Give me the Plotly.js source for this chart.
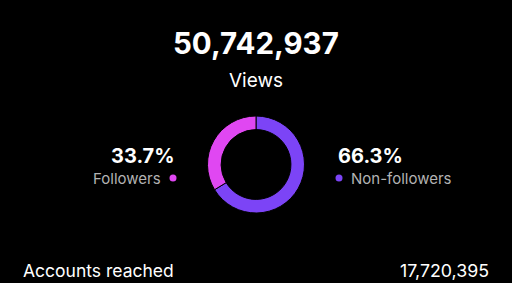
<!DOCTYPE html>
<html><head><meta charset="utf-8">
<script src="https://cdn.plot.ly/plotly-3.0.1.min.js"></script>
<style>html,body{margin:0;padding:0;background:#000;}#chart{width:512px;height:283px;}</style>
</head><body><div id="chart"></div>
<script>
const categories = ['Followers', 'Non-followers'];
const shares = [33.7, 66.3];
const sliceColors = ['#e047f2', '#7c44f6'];
const totalViews = 50742937;
const viewsLabel = 'Views';
const reachLabel = 'Accounts reached';
const accountsReached = 17720395;

const W = 512, H = 283;
const px = x => x / W, py = y => 1 - y / H;
const fmt = n => n.toLocaleString('en-US');
const pct = v => v.toFixed(1) + '%';
const F = 'Inter, "Noto Sans", sans-serif';

// drawn clockwise from 12 o'clock: non-followers first so followers sits on the left
const pie = {
  type: 'pie', labels: categories.slice().reverse(), values: shares.slice().reverse(), sort: false,
  direction: 'clockwise', rotation: 0, hole: 0.72,
  marker: {colors: sliceColors.slice().reverse(), line: {color: '#000', width: 1}},
  textinfo: 'none', hoverinfo: 'none', showlegend: false,
  domain: {x: [px(207.5), px(304.5)], y: [py(213), py(116)]}
};

const annotations = [
  {text: '<b>' + fmt(totalViews) + '</b>', x: px(256), y: py(43), xanchor: 'center', yanchor: 'middle', font: {size: 29.5, color: '#fff', family: F}},
  {text: viewsLabel, x: px(256), y: py(80), xanchor: 'center', yanchor: 'middle', font: {size: 19, color: '#fff', family: F}},
  {text: '<b>' + pct(shares[0]) + '</b>', x: px(177), y: py(156), xanchor: 'right', yanchor: 'middle', font: {size: 20, color: '#fff', family: F}},
  {text: categories[0], x: px(163), y: py(178), xanchor: 'right', yanchor: 'middle', font: {size: 15, color: '#b3b3b3', family: F}},
  {text: '<b>' + pct(shares[1]) + '</b>', x: px(336), y: py(156), xanchor: 'left', yanchor: 'middle', font: {size: 20, color: '#fff', family: F}},
  {text: categories[1], x: px(349), y: py(178), xanchor: 'left', yanchor: 'middle', font: {size: 15, color: '#b3b3b3', family: F}},
  {text: reachLabel, x: px(21), y: py(270), xanchor: 'left', yanchor: 'middle', font: {size: 17.5, color: '#fff', family: F}},
  {text: fmt(accountsReached), x: px(491), y: py(270), xanchor: 'right', yanchor: 'middle', font: {size: 17.8, color: '#fff', family: F}}
].map(a => Object.assign({xref: 'paper', yref: 'paper', showarrow: false}, a));

const dot = (cx, cy, color) => ({type: 'circle', xref: 'paper', yref: 'paper',
  xsizemode: 'pixel', ysizemode: 'pixel', xanchor: px(cx), yanchor: py(cy),
  x0: -3.5, x1: 3.5, y0: -3.5, y1: 3.5, fillcolor: color, line: {width: 0}});

const layout = {
  width: W, height: H, margin: {l: 0, r: 0, t: 0, b: 0},
  paper_bgcolor: '#000', plot_bgcolor: '#000',
  annotations: annotations,
  shapes: [dot(173, 178, sliceColors[0]), dot(339, 178, sliceColors[1])]
};
Plotly.newPlot('chart', [pie], layout, {staticPlot: true, displayModeBar: false});
</script></body></html>
